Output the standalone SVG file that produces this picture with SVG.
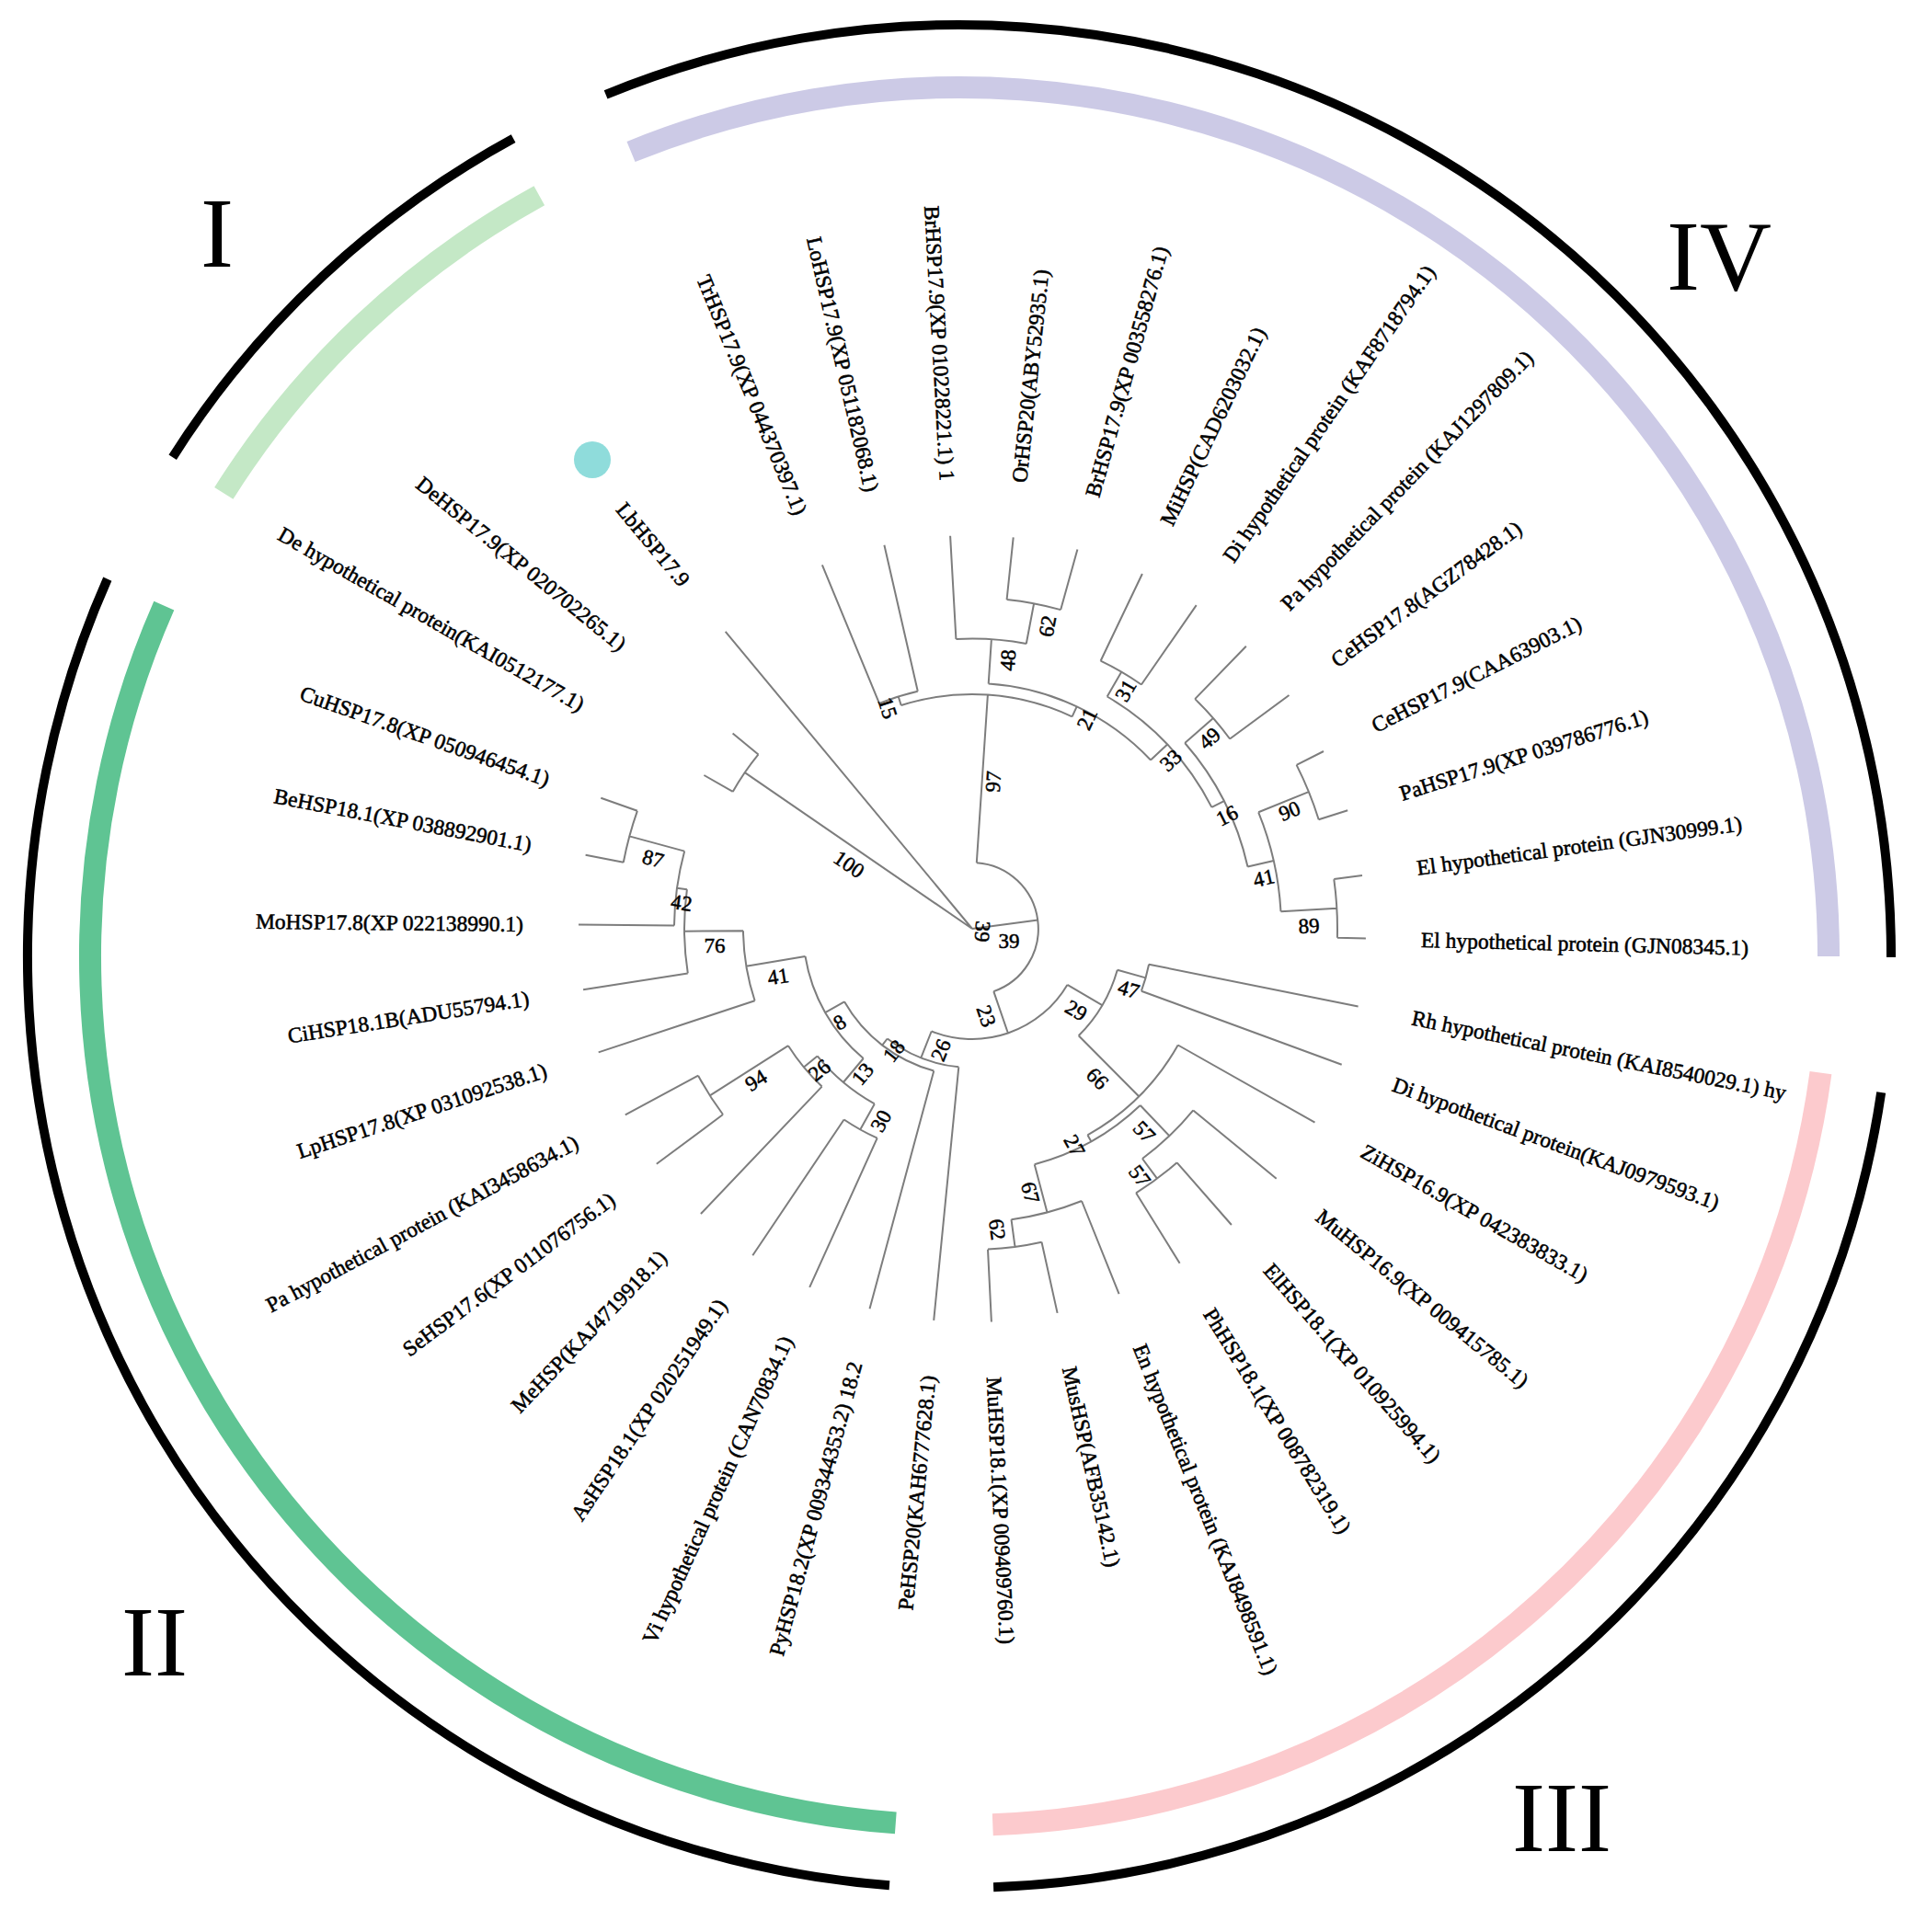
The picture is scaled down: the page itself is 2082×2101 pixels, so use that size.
<svg xmlns="http://www.w3.org/2000/svg" width="2082" height="2101" viewBox="0 0 2082 2101">
<style>
.br{fill:none;stroke:#7d7d7d;stroke-width:2}
.ring{fill:none;stroke-linecap:butt}
.lb{font-family:"Liberation Serif","Times New Roman",serif;font-size:23.5px;fill:#000;stroke:#000;stroke-width:0.55;dominant-baseline:central}
.in{text-anchor:end}
.out{text-anchor:start}
.bs{font-family:"Liberation Serif","Times New Roman",serif;font-size:23px;fill:#000;stroke:#000;stroke-width:0.5;text-anchor:middle;dominant-baseline:central}
.rn{font-family:"Liberation Serif","Times New Roman",serif;font-size:108px;fill:#000;text-anchor:middle}
</style>
<rect width="2082" height="2101" fill="#fff"/>
<g id="rings">
<path class="ring" stroke="#000" stroke-width="10" d="M187.7,497.2 A1013,1013 0 0 1 558.1,150.6"/>
<path class="ring" stroke="#000" stroke-width="10" d="M658.6,102.8 A1013,1013 0 0 1 2056,1040.9"/>
<path class="ring" stroke="#000" stroke-width="10" d="M2045.2,1188 A1013,1013 0 0 1 1080.1,2052.3"/>
<path class="ring" stroke="#000" stroke-width="10" d="M967,2050.2 A1013,1013 0 0 1 116.8,629.6"/>
<path class="ring" stroke="#c4e8c6" stroke-width="24" d="M243.3,536.4 A945,945 0 0 1 586.3,212.7"/>
<path class="ring" stroke="#cccae6" stroke-width="24" d="M686,165 A945,945 0 0 1 1988,1040"/>
<path class="ring" stroke="#fccacd" stroke-width="24" d="M1979.5,1166.6 A945,945 0 0 1 1079.3,1984.3"/>
<path class="ring" stroke="#5fc493" stroke-width="24" d="M973.8,1982.4 A945,945 0 0 1 178.3,658.7"/>
</g>
<g id="clade-names">
<text class="rn" x="236" y="290">I</text>
<text class="rn" x="1869" y="315">IV</text>
<text class="rn" x="168" y="1822">II</text>
<text class="rn" x="1698" y="2013">III</text>
</g>
<circle id="marker-Lb" cx="644" cy="500" r="20" fill="#8fdcdb"/>
<g id="connectors">
<path class="br" d="M1057,1010 L788.7,686.9 M1057,1010 L809.8,840.1 M824.5,820.4 A300,300 0 0 0 796.7,860.9 M824.5,820.4 L796.6,797.6 M796.7,860.9 L765.4,843 M1057,1010 L1128.4,1000.5 M1061.8,938.2 A72,72 0 0 1 1080.3,1078.1"/>
<path class="br" d="M1061.8,938.2 L1073.9,755.6 M979.7,767 A255,255 0 0 1 1165.6,779.3 M979.7,767 L976.7,757.5 M956,765 A265,265 0 0 1 997.8,751.7 M956,765 L893.9,614.3 M997.8,751.7 L961.4,592.8 M1165.6,779.3 L1170.7,768.4 M1074.7,743.6 A267,267 0 0 1 1251,826.5 M1074.7,743.6 L1077.9,695.2 M1039.4,695 A315.5,315.5 0 0 1 1115.8,700 M1039.4,695 L1033.1,582.7 M1115.8,700 L1124.1,656.3 M1094.6,652 A360,360 0 0 1 1153.2,663.1 M1094.6,652 L1101.7,584.4 M1153.2,663.1 L1171.4,597.6"/>
<path class="br" d="M1251,826.5 L1269.2,809.4 M1203.7,757.5 A292,292 0 0 1 1317.4,877.9 M1203.7,757.5 L1219.2,730.7 M1196.6,718.7 A323,323 0 0 1 1240.9,744.5 M1196.6,718.7 L1241.9,624 M1240.9,744.5 L1300.7,658.1 M1317.4,877.9 L1330.8,871.1 M1288.2,808 A307,307 0 0 1 1356.5,942.5 M1288.2,808 L1319,781 M1299.2,760.1 A348,348 0 0 1 1337.1,803.5 M1299.2,760.1 L1354.8,702.7 M1337.1,803.5 L1401.5,756 M1356.5,942.5 L1384.8,936.1 M1368.2,883.3 A336,336 0 0 1 1392.5,991.2 M1368.2,883.3 L1422.8,861.1 M1409.6,831.9 A395,395 0 0 1 1433.7,891.2 M1409.6,831.9 L1439,817 M1433.7,891.2 L1465.2,881.3 M1392.5,991.2 L1453.4,987.8 M1450.3,956.1 A397,397 0 0 1 1453.9,1019.7 M1450.3,956.1 L1481,951.9 M1453.9,1019.7 L1484.9,1020.4"/>
<path class="br" d="M1080.3,1078.1 L1095.9,1123.5 M1012.7,1121.5 A120,120 0 0 0 1160.4,1070.9 M1160.4,1070.9 L1198.3,1093.2 M1214.8,1054.7 A164,164 0 0 1 1172.7,1126.3 M1214.8,1054.7 L1245.6,1063.4 M1249.1,1048.7 A196,196 0 0 1 1240.9,1077.7 M1249.1,1048.7 L1476.6,1094.6 M1240.9,1077.7 L1458.7,1157.8 M1172.7,1126.3 L1238.2,1192.2 M1280.7,1136.5 A257,257 0 0 1 1182.4,1234.3 M1280.7,1136.5 L1429.5,1220.7 M1182.4,1234.3 L1186.3,1241.3 M1239.7,1202 A265,265 0 0 1 1124.7,1266.2 M1239.7,1202 L1271.4,1235.3 M1297.3,1207.4 A311,311 0 0 1 1242,1260 M1297.3,1207.4 L1387.7,1281.7 M1242,1260 L1258,1281.7 M1279.6,1264.3 A338,338 0 0 1 1235.1,1297.3 M1279.6,1264.3 L1338.9,1332 M1235.1,1297.3 L1282.6,1373.8 M1124.7,1266.2 L1138.5,1318.4 M1176,1306 A319,319 0 0 1 1099.5,1326.2 M1176,1306 L1216.6,1407.1 M1099.5,1326.2 L1103.5,1355.9 M1132.5,1350.7 A349,349 0 0 1 1074,1358.6 M1132.5,1350.7 L1149.6,1427.9 M1074,1358.6 L1077.9,1437.5"/>
<path class="br" d="M1012.7,1121.5 L1001.3,1150.4 M964.7,1129.5 A151,151 0 0 0 1042.3,1160.3 M1042.3,1160.3 L1015.2,1435.9 M964.7,1129.5 L959.2,1136.6 M918,1089.3 A160,160 0 0 0 1015.3,1164.5 M1015.3,1164.5 L945.5,1423.2 M918,1089.3 L897.2,1101.2 M875.5,1040 A184,184 0 0 0 938.7,1151 M938.7,1151 L916.9,1177 M888.6,1148.4 A218,218 0 0 0 950.8,1200.4 M888.6,1148.4 L873.9,1160.4 M857,1137.2 A237,237 0 0 0 893.6,1181.6 M857,1137.2 L771.8,1191.4 M759.1,1169.7 A338,338 0 0 0 786,1212 M759.1,1169.7 L679.8,1212.3 M786,1212 L713.8,1265.8 M893.6,1181.6 L761.9,1320 M950.8,1200.4 L935.2,1228.4 M917.6,1217.5 A250,250 0 0 0 953.7,1237.7 M917.6,1217.5 L818.3,1365.2 M953.7,1237.7 L880.2,1399.8"/>
<path class="br" d="M875.5,1040 L811.3,1050.7 M808,1012.2 A249,249 0 0 0 820.6,1088.2 M820.6,1088.2 L650.7,1144.4 M808,1012.2 L744,1012.7 M746.9,967.2 A313,313 0 0 0 747.8,1058.4 M747.8,1058.4 L634.1,1076.2 M746.9,967.2 L736,965.7 M744.2,925.6 A324,324 0 0 0 733,1006.6 M733,1006.6 L629,1005.5 M744.2,925.6 L684.3,909.4 M692.9,881.8 A386,386 0 0 0 677.8,937.7 M692.9,881.8 L653.3,867.8 M677.8,937.7 L636.6,929.8"/>
</g>
<g id="bootstrap">
<text class="bs" transform="translate(923,940) rotate(34.5)">100</text>
<text class="bs" transform="translate(1068,1013) rotate(94)">39</text>
<text class="bs" transform="translate(1097,1023)">39</text>
<text class="bs" transform="translate(1080,850) rotate(-86)">97</text>
<text class="bs" transform="translate(965,770) rotate(72)">15</text>
<text class="bs" transform="translate(1096,718) rotate(-86)">48</text>
<text class="bs" transform="translate(1139,681) rotate(-79)">62</text>
<text class="bs" transform="translate(1182,782) rotate(-65)">21</text>
<text class="bs" transform="translate(1224,751) rotate(-60)">31</text>
<text class="bs" transform="translate(1273,827) rotate(-43)">33</text>
<text class="bs" transform="translate(1315,803) rotate(-41)">49</text>
<text class="bs" transform="translate(1334,887) rotate(-27)">16</text>
<text class="bs" transform="translate(1402,882) rotate(-22)">90</text>
<text class="bs" transform="translate(1374,955) rotate(-13)">41</text>
<text class="bs" transform="translate(1423,1007) rotate(-3)">89</text>
<text class="bs" transform="translate(1227,1076) rotate(16)">47</text>
<text class="bs" transform="translate(1170,1099) rotate(30)">29</text>
<text class="bs" transform="translate(1193,1173) rotate(45)">66</text>
<text class="bs" transform="translate(1244,1231) rotate(46)">57</text>
<text class="bs" transform="translate(1239,1279) rotate(53)">57</text>
<text class="bs" transform="translate(1168,1246) rotate(61)">27</text>
<text class="bs" transform="translate(1120,1297) rotate(75)">67</text>
<text class="bs" transform="translate(1084,1337) rotate(82)">62</text>
<text class="bs" transform="translate(1072,1105) rotate(71)">23</text>
<text class="bs" transform="translate(1023,1142) rotate(-68)">26</text>
<text class="bs" transform="translate(972,1143) rotate(-52)">18</text>
<text class="bs" transform="translate(938,1168) rotate(-50)">13</text>
<text class="bs" transform="translate(958,1219) rotate(-61)">30</text>
<text class="bs" transform="translate(891,1164) rotate(-39)">26</text>
<text class="bs" transform="translate(822,1175) rotate(-32)">94</text>
<text class="bs" transform="translate(913,1112) rotate(-30)">8</text>
<text class="bs" transform="translate(846,1062) rotate(-9)">41</text>
<text class="bs" transform="translate(777,1028)">76</text>
<text class="bs" transform="translate(741,982) rotate(8)">42</text>
<text class="bs" transform="translate(710,934) rotate(15)">87</text>
</g>
<g id="leaf-Lb"><text class="lb in" transform="translate(745.3,634.5) rotate(50.3)">LbHSP17.9</text></g>
<g id="leaf-DeHSP"><text class="lb in" transform="translate(677.8,702.9) rotate(39)">DeHSP17.9(XP 020702265.1)</text></g>
<g id="leaf-Dehyp"><text class="lb in" transform="translate(633.5,767.5) rotate(29.8)">De hypothetical protein(KAI0512177.1)</text></g>
<g id="leaf-Cu"><text class="lb in" transform="translate(596.7,847.9) rotate(19.4)">CuHSP17.8(XP 050946454.1)</text></g>
<g id="leaf-Be"><text class="lb in" transform="translate(577.6,918.5) rotate(10.8)">BeHSP18.1(XP 038892901.1)</text></g>
<g id="leaf-Mo"><text class="lb in" transform="translate(569,1004.9) rotate(0.6)">MoHSP17.8(XP 022138990.1)</text></g>
<g id="leaf-Ci"><text class="lb in" transform="translate(574.9,1085.5) rotate(-8.9)">CiHSP18.1B(ADU55794.1)</text></g>
<g id="leaf-Lp"><text class="lb in" transform="translate(593.7,1163.2) rotate(-18.3)">LpHSP17.8(XP 031092538.1)</text></g>
<g id="leaf-PaKAI"><text class="lb in" transform="translate(626.9,1240.6) rotate(-28.2)">Pa hypothetical protein (KAI3458634.1)</text></g>
<g id="leaf-Se"><text class="lb in" transform="translate(665.7,1301.6) rotate(-36.7)">SeHSP17.6(XP 011076756.1)</text></g>
<g id="leaf-Me"><text class="lb in" transform="translate(720.5,1363.4) rotate(-46.4)">MeHSP(KAJ4719918.1)</text></g>
<g id="leaf-As"><text class="lb in" transform="translate(784.8,1415) rotate(-56.1)">AsHSP18.1(XP 020251949.1)</text></g>
<g id="leaf-Vi"><text class="lb in" transform="translate(855.4,1454.4) rotate(-65.6)">Vi hypothetical protein (CAN70834.1)</text></g>
<g id="leaf-Py"><text class="lb in" transform="translate(929.9,1481.2) rotate(-74.9)">PyHSP18.2(XP 009344353.2) 18.2</text></g>
<g id="leaf-Pe"><text class="lb in" transform="translate(1009.4,1495.7) rotate(-84.4)">PeHSP20(KAH6777628.1)</text></g>
<g id="leaf-Tr"><text class="lb in" transform="translate(871,558.8) rotate(67.6)">TrHSP17.9(XP 044370397.1)</text></g>
<g id="leaf-Lo"><text class="lb in" transform="translate(948,534.3) rotate(77.1)">LoHSP17.9(XP 051182068.1)</text></g>
<g id="leaf-Br1"><text class="lb in" transform="translate(1029.8,522.8) rotate(86.8)">BrHSP17.9(XP 010228221.1) 1</text></g>
<g id="leaf-Or"><text class="lb out" transform="translate(1108,524.7) rotate(-84)">OrHSP20(ABY52935.1)</text></g>
<g id="leaf-Br2"><text class="lb out" transform="translate(1187.4,539.8) rotate(-74.5)">BrHSP17.9(XP 003558276.1)</text></g>
<g id="leaf-Mi"><text class="lb out" transform="translate(1267.9,569.9) rotate(-64.4)">MiHSP(CAD6203032.1)</text></g>
<g id="leaf-DiKAF"><text class="lb out" transform="translate(1334.8,608.8) rotate(-55.3)">Di hypothetical protein (KAF8718794.1)</text></g>
<g id="leaf-PaKAJ"><text class="lb out" transform="translate(1396.6,659.6) rotate(-45.9)">Pa hypothetical protein (KAJ1297809.1)</text></g>
<g id="leaf-Ce178"><text class="lb out" transform="translate(1449.8,720.4) rotate(-36.4)">CeHSP17.8(AGZ78428.1)</text></g>
<g id="leaf-Ce179"><text class="lb out" transform="translate(1492.6,790) rotate(-26.8)">CeHSP17.9(CAA63903.1)</text></g>
<g id="leaf-Pa179"><text class="lb out" transform="translate(1522.4,863.3) rotate(-17.5)">PaHSP17.9(XP 039786776.1)</text></g>
<g id="leaf-El30999"><text class="lb out" transform="translate(1540.5,943.8) rotate(-7.8)">El hypothetical protein (GJN30999.1)</text></g>
<g id="leaf-El08345"><text class="lb out" transform="translate(1544.9,1021.9) rotate(1.4)">El hypothetical protein (GJN08345.1)</text></g>
<g id="leaf-Rh"><text class="lb out" transform="translate(1535.4,1106.5) rotate(11.4)">Rh hypothetical protein (KAI8540029.1) hy</text></g>
<g id="leaf-DiKAJ"><text class="lb out" transform="translate(1515,1178.5) rotate(20.2)">Di hypothetical protein(KAJ0979593.1)</text></g>
<g id="leaf-Zi"><text class="lb out" transform="translate(1481.8,1250.3) rotate(29.5)">ZiHSP16.9(XP 042383833.1)</text></g>
<g id="leaf-Mu169"><text class="lb out" transform="translate(1434.1,1319.7) rotate(39.4)">MuHSP16.9(XP 009415785.1)</text></g>
<g id="leaf-El181"><text class="lb out" transform="translate(1378.4,1377.2) rotate(48.8)">ElHSP18.1(XP 010925994.1)</text></g>
<g id="leaf-Ph"><text class="lb out" transform="translate(1314.2,1424.8) rotate(58.2)">PhHSP18.1(XP 008782319.1)</text></g>
<g id="leaf-En"><text class="lb out" transform="translate(1239,1462.8) rotate(68.1)">En hypothetical protein (KAJ8498591.1)</text></g>
<g id="leaf-Mus"><text class="lb out" transform="translate(1162.6,1486.4) rotate(77.5)">MusHSP(AFB35142.1)</text></g>
<g id="leaf-Mu181"><text class="lb out" transform="translate(1080.8,1497.4) rotate(87.2)">MuHSP18.1(XP 009409760.1)</text></g>
</svg>
